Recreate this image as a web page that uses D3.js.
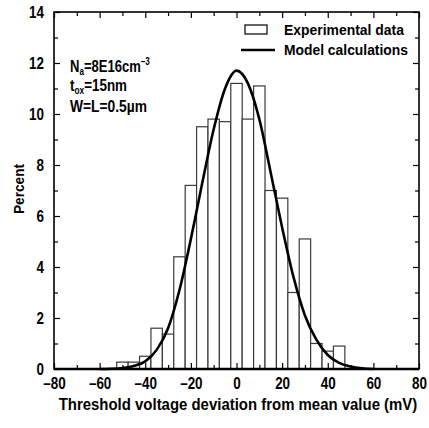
<!DOCTYPE html>
<html>
<head>
<meta charset="utf-8">
<script src="https://cdn.jsdelivr.net/npm/d3@7"></script>
<style>
  body { margin: 0; background: #fff; }
  svg { display: block; }
  text { font-family: "Liberation Sans Narrow", "Arial Narrow", "Liberation Sans", sans-serif; font-weight: bold; fill: #000; }
  .axis path, .axis line { stroke: #000; }
</style>
</head>
<body>
<div id="vis-container"></div>
<script>
let width = 429;
let height = 428;
let margin = {top: 12, right: 10, bottom: 59, left: 54};

// histogram bins (bin centre in mV, 5 mV wide) and percent
let bin_centers = [-50, -45, -40, -35, -30, -25, -20, -15, -10, -5, 0, 5, 10, 15, 20, 25, 30, 35, 40, 45];
let bin_percent = [0.27, 0.27, 0.5, 1.6, 1.37, 4.4, 7.2, 9.5, 9.8, 9.7, 11.2, 9.8, 11.1, 7.0, 6.7, 3.0, 5.1, 1.0, 0.7, 0.9];

// model curve
let model_x = [-60, -55, -50, -45, -40, -35, -30, -25, -20, -15, -10, -5, 0, 5, 10, 15, 20, 25, 30, 35, 40, 45, 50, 55, 60];
let model_y = [0.0, 0.01, 0.04, 0.12, 0.3, 0.75, 1.6, 3.1, 5.1, 7.3, 9.4, 11.0, 11.7, 11.2, 9.8, 7.7, 5.55, 3.6, 2.1, 1.15, 0.55, 0.24, 0.1, 0.03, 0.0];

let x_ticks = [-80, -60, -40, -20, 0, 20, 40, 60, 80];
let x_minor = [-70, -50, -30, -10, 10, 30, 50, 70];
let y_ticks = [0, 2, 4, 6, 8, 10, 12, 14];
let y_minor = [1, 3, 5, 7, 9, 11, 13];
let bin_width = 5;

let svg = d3.select("#vis-container").append("svg")
    .attr("width", width)
    .attr("height", height);

let x = d3.scaleLinear().domain([-80, 80]).range([margin.left, width - margin.right]);
let y = d3.scaleLinear().domain([0, 14]).range([height - margin.bottom, margin.top]);

let fmt = d => d < 0 ? "\u2013" + (-d) : "" + d;

// squeeze a text horizontally around its x anchor (no narrow font installed)
function squeeze(sel, k) {
  sel.each(function() {
    let ax = +(this.getAttribute("x") || 0);
    let prev = this.getAttribute("transform") || "";
    d3.select(this).attr("transform", prev + " translate(" + (ax * (1 - k)) + ",0) scale(" + k + ",1)");
  });
}
// squeeze a text so that it is w pixels wide
function fitWidth(sel, w) {
  sel.each(function() {
    let cur = this.getComputedTextLength();
    squeeze(d3.select(this), w / cur);
  });
}

// bars
svg.append("g")
  .selectAll("rect")
  .data(bin_centers)
  .enter().append("rect")
    .attr("x", d => x(d - bin_width / 2))
    .attr("width", d => x(d + bin_width / 2) - x(d - bin_width / 2))
    .attr("y", (d, i) => y(bin_percent[i]))
    .attr("height", (d, i) => y(0) - y(bin_percent[i]))
    .attr("fill", "#fff")
    .attr("stroke", "#3a3a3a")
    .attr("stroke-width", 1.2);

// model curve
let line = d3.line()
    .x(d => x(d[0]))
    .y(d => y(d[1]))
    .curve(d3.curveMonotoneX);

svg.append("path")
    .datum(model_x.map((v, i) => [v, model_y[i]]))
    .attr("fill", "none")
    .attr("stroke", "#000")
    .attr("stroke-width", 2.6)
    .attr("d", line);

// axes, ticks pointing inward
function addAxis(axisFn, scale, ticks, size, translate, labels) {
  let g = svg.append("g")
      .attr("class", "axis")
      .attr("transform", translate)
      .call(axisFn(scale).tickValues(ticks).tickSize(-size).tickPadding(6)
        .tickFormat(labels ? fmt : ""));
  g.select(".domain").remove();
  g.selectAll("line").attr("stroke-width", 1.2);
  g.selectAll("text").style("font-size", "16px");
  return g;
}

let at_bottom = "translate(0," + (height - margin.bottom) + ")";
let at_top = "translate(0," + margin.top + ")";
let at_left = "translate(" + margin.left + ",0)";
let at_right = "translate(" + (width - margin.right) + ",0)";

let xlab = addAxis(d3.axisBottom, x, x_ticks, 6, at_bottom, true).selectAll("text");
xlab.attr("dy", "0.85em");
squeeze(xlab, 0.84);
addAxis(d3.axisBottom, x, x_minor, 4, at_bottom, false);
addAxis(d3.axisTop, x, x_ticks, 6, at_top, false);
addAxis(d3.axisTop, x, x_minor, 4, at_top, false);
let ylab = addAxis(d3.axisLeft, y, y_ticks, 6, at_left, true).selectAll("text");
ylab.attr("x", -10);
squeeze(ylab, 0.84);
addAxis(d3.axisLeft, y, y_minor, 4, at_left, false);
addAxis(d3.axisRight, y, y_ticks, 6, at_right, false);
addAxis(d3.axisRight, y, y_minor, 4, at_right, false);

// frame
svg.append("rect")
    .attr("x", x(-80))
    .attr("y", y(14))
    .attr("width", x(80) - x(-80))
    .attr("height", y(0) - y(14))
    .attr("fill", "none")
    .attr("stroke", "#000")
    .attr("stroke-width", 1.6);
svg.append("line")
    .attr("x1", x(-80)).attr("x2", x(80))
    .attr("y1", y(0)).attr("y2", y(0))
    .attr("stroke", "#000")
    .attr("stroke-width", 2.6);

// axis titles
let xtitle = svg.append("text")
    .attr("x", 238)
    .attr("y", 410)
    .attr("text-anchor", "middle")
    .style("font-size", "16px")
    .text("Threshold voltage deviation from mean value (mV)");
fitWidth(xtitle, 359);

let ytitle = svg.append("text")
    .attr("transform", "translate(24,189) rotate(-90)")
    .attr("text-anchor", "middle")
    .style("font-size", "15px")
    .text("Percent");
fitWidth(ytitle, 50);

// legend
svg.append("rect")
    .attr("x", 245).attr("y", 25)
    .attr("width", 22).attr("height", 9)
    .attr("fill", "#fff")
    .attr("stroke", "#000")
    .attr("stroke-width", 1.2);
let leg1 = svg.append("text")
    .attr("x", 284).attr("y", 35)
    .style("font-size", "15px")
    .text("Experimental data");
fitWidth(leg1, 120);
svg.append("line")
    .attr("x1", 241).attr("x2", 275)
    .attr("y1", 50).attr("y2", 50)
    .attr("stroke", "#000")
    .attr("stroke-width", 2.6);
let leg2 = svg.append("text")
    .attr("x", 284).attr("y", 55)
    .style("font-size", "15px")
    .text("Model calculations");
fitWidth(leg2, 124);

// device parameters
let ann = svg.append("g").style("font-size", "16px");
let t1 = ann.append("text").attr("x", 70).attr("y", 72);
t1.append("tspan").text("N");
t1.append("tspan").attr("dy", 3).style("font-size", "10px").text("a");
t1.append("tspan").attr("dy", -3).text("=8E16cm");
t1.append("tspan").attr("dy", -7).style("font-size", "10px").text("\u20133");
fitWidth(t1, 80);

let t2 = ann.append("text").attr("x", 70).attr("y", 91);
t2.append("tspan").text("t");
t2.append("tspan").attr("dy", 3).style("font-size", "10px").text("ox");
t2.append("tspan").attr("dy", -3).text("=15nm");
fitWidth(t2, 57);

let t3 = ann.append("text").attr("x", 70).attr("y", 112).text("W=L=0.5\u00b5m");
fitWidth(t3, 77);
</script>
</body>
</html>
